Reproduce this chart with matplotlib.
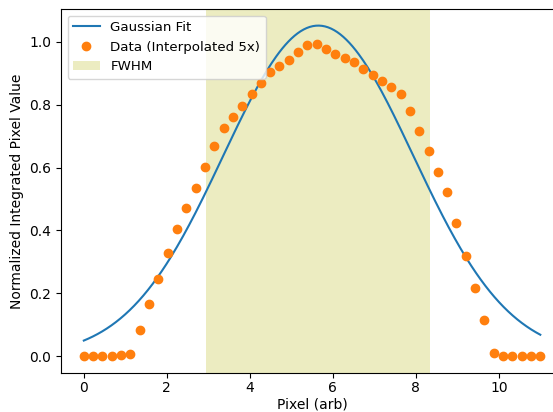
import matplotlib
matplotlib.use("Agg")
import matplotlib.pyplot as plt
import numpy as np

# interpolated data (50 points across 0..11 pixels)
pix = np.linspace(0, 11, 50)
vals = [0.0, 0.0, 0.0, 0.0, 0.003, 0.007, 0.085, 0.166, 0.247, 0.327,
        0.404, 0.470, 0.536, 0.602, 0.667, 0.726, 0.762, 0.797, 0.834, 0.869,
        0.903, 0.924, 0.943, 0.967, 0.988, 0.991, 0.977, 0.962, 0.947, 0.936,
        0.914, 0.894, 0.875, 0.855, 0.834, 0.781, 0.717, 0.652, 0.586, 0.523,
        0.425, 0.320, 0.217, 0.114, 0.012, 0.0, 0.0, 0.0, 0.0, 0.0]

# gaussian fit parameters
amp = 1.051
mu = 5.65
sigma = 2.29
fwhm_lo = 2.94
fwhm_hi = 8.34

fig = plt.figure(figsize=(5.53, 4.12), dpi=100)
# right spine falls just outside the picture, as in the reference
ax = fig.add_axes([0.1103, 0.095, 0.908, 0.883])

xf = np.linspace(0, 11, 300)
ax.plot(xf, amp*np.exp(-(xf-mu)**2/(2*sigma**2)), label='Gaussian Fit')
ax.plot(pix, vals, 'o', label='Data (Interpolated 5x)')
ax.axvspan(fwhm_lo, fwhm_hi, color='tab:olive', alpha=0.28, lw=0, label='FWHM')

ax.tick_params(axis='x', pad=2.5)
ax.set_xlabel('Pixel (arb)', labelpad=1.5)
ax.set_ylabel('Normalized Integrated Pixel Value')
ax.legend(loc='upper left', fontsize=9.6)
fig.savefig('out.png')
